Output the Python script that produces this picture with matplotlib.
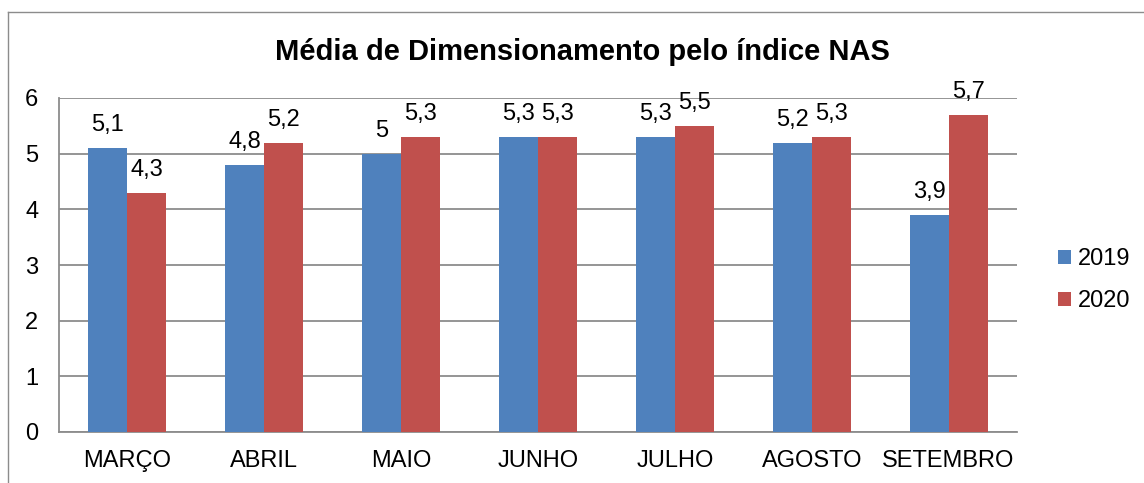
import matplotlib
matplotlib.use("Agg")
import matplotlib.pyplot as plt
import numpy as np
from matplotlib.lines import Line2D

plt.rcParams["font.family"] = ["Liberation Sans", "DejaVu Sans"]

meses = ["MARÇO", "ABRIL", "MAIO", "JUNHO", "JULHO", "AGOSTO", "SETEMBRO"]
valores_2019 = [5.1, 4.8, 5.0, 5.3, 5.3, 5.2, 3.9]
valores_2020 = [4.3, 5.2, 5.3, 5.3, 5.5, 5.3, 5.7]
series = ["2019", "2020"]

cor_azul = "#4F81BD"
cor_vermelho = "#C0504D"
cor_grade = "#8C8C8C"
fonte = 17

W, H = 1144, 483
fig = plt.figure(figsize=(W / 100, H / 100), dpi=100)
ax = fig.add_axes([59 / W, 1 - 432 / H, (1017 - 59) / W, (432 - 98) / H])

x = np.arange(len(meses))
larg = 0.285

b1 = ax.bar(x - larg / 2, valores_2019, larg, color=cor_azul, label=series[0], zorder=3)
b2 = ax.bar(x + larg / 2, valores_2020, larg, color=cor_vermelho, label=series[1], zorder=3)

def rotulo(v):
    s = ("%.1f" % v).replace(".", ",")
    return s[:-2] if s.endswith(",0") else s

for barras, vals in ((b1, valores_2019), (b2, valores_2020)):
    for b, v in zip(barras, vals):
        ax.annotate(rotulo(v), (b.get_x() + b.get_width() / 2, v),
                    xytext=(0, 12), textcoords="offset points",
                    ha="center", va="baseline", fontsize=fonte)

ax.set_xlim(-0.5, len(meses) - 0.5)
ax.set_ylim(0, 6)
ax.set_yticks(range(0, 7))
ax.set_xticks(x)
ax.set_xticklabels(meses, fontsize=fonte)
ax.tick_params(axis="y", labelsize=fonte, length=0, pad=15)
ax.tick_params(axis="x", length=0, pad=13)
ax.yaxis.grid(True, color=cor_grade, linewidth=1.3, zorder=0)
for lado in ["top", "right"]:
    ax.spines[lado].set_visible(False)
ax.spines["left"].set_color(cor_grade)
ax.spines["bottom"].set_color(cor_grade)
ax.spines["left"].set_linewidth(1.3)
ax.spines["bottom"].set_linewidth(1.3)

fig.text(582 / W, 1 - 52 / H, "Média de Dimensionamento pelo índice NAS",
         ha="center", va="center", fontsize=21, fontweight="bold")

ax.legend(loc="center left", bbox_to_anchor=(1037 / W, 1 - 280 / H),
          bbox_transform=fig.transFigure, frameon=False, fontsize=fonte,
          handlelength=0.55, handleheight=0.55, handletextpad=0.3,
          labelspacing=0.85)

# moldura do gráfico
fig.add_artist(Line2D([8 / W, 8 / W], [0, 1 - 12 / H], transform=fig.transFigure,
                      color=cor_grade, linewidth=1))
fig.add_artist(Line2D([8 / W, 1], [1 - 12 / H, 1 - 12 / H], transform=fig.transFigure,
                      color=cor_grade, linewidth=1))

fig.savefig("out.png", dpi=100)
plt.close(fig)
